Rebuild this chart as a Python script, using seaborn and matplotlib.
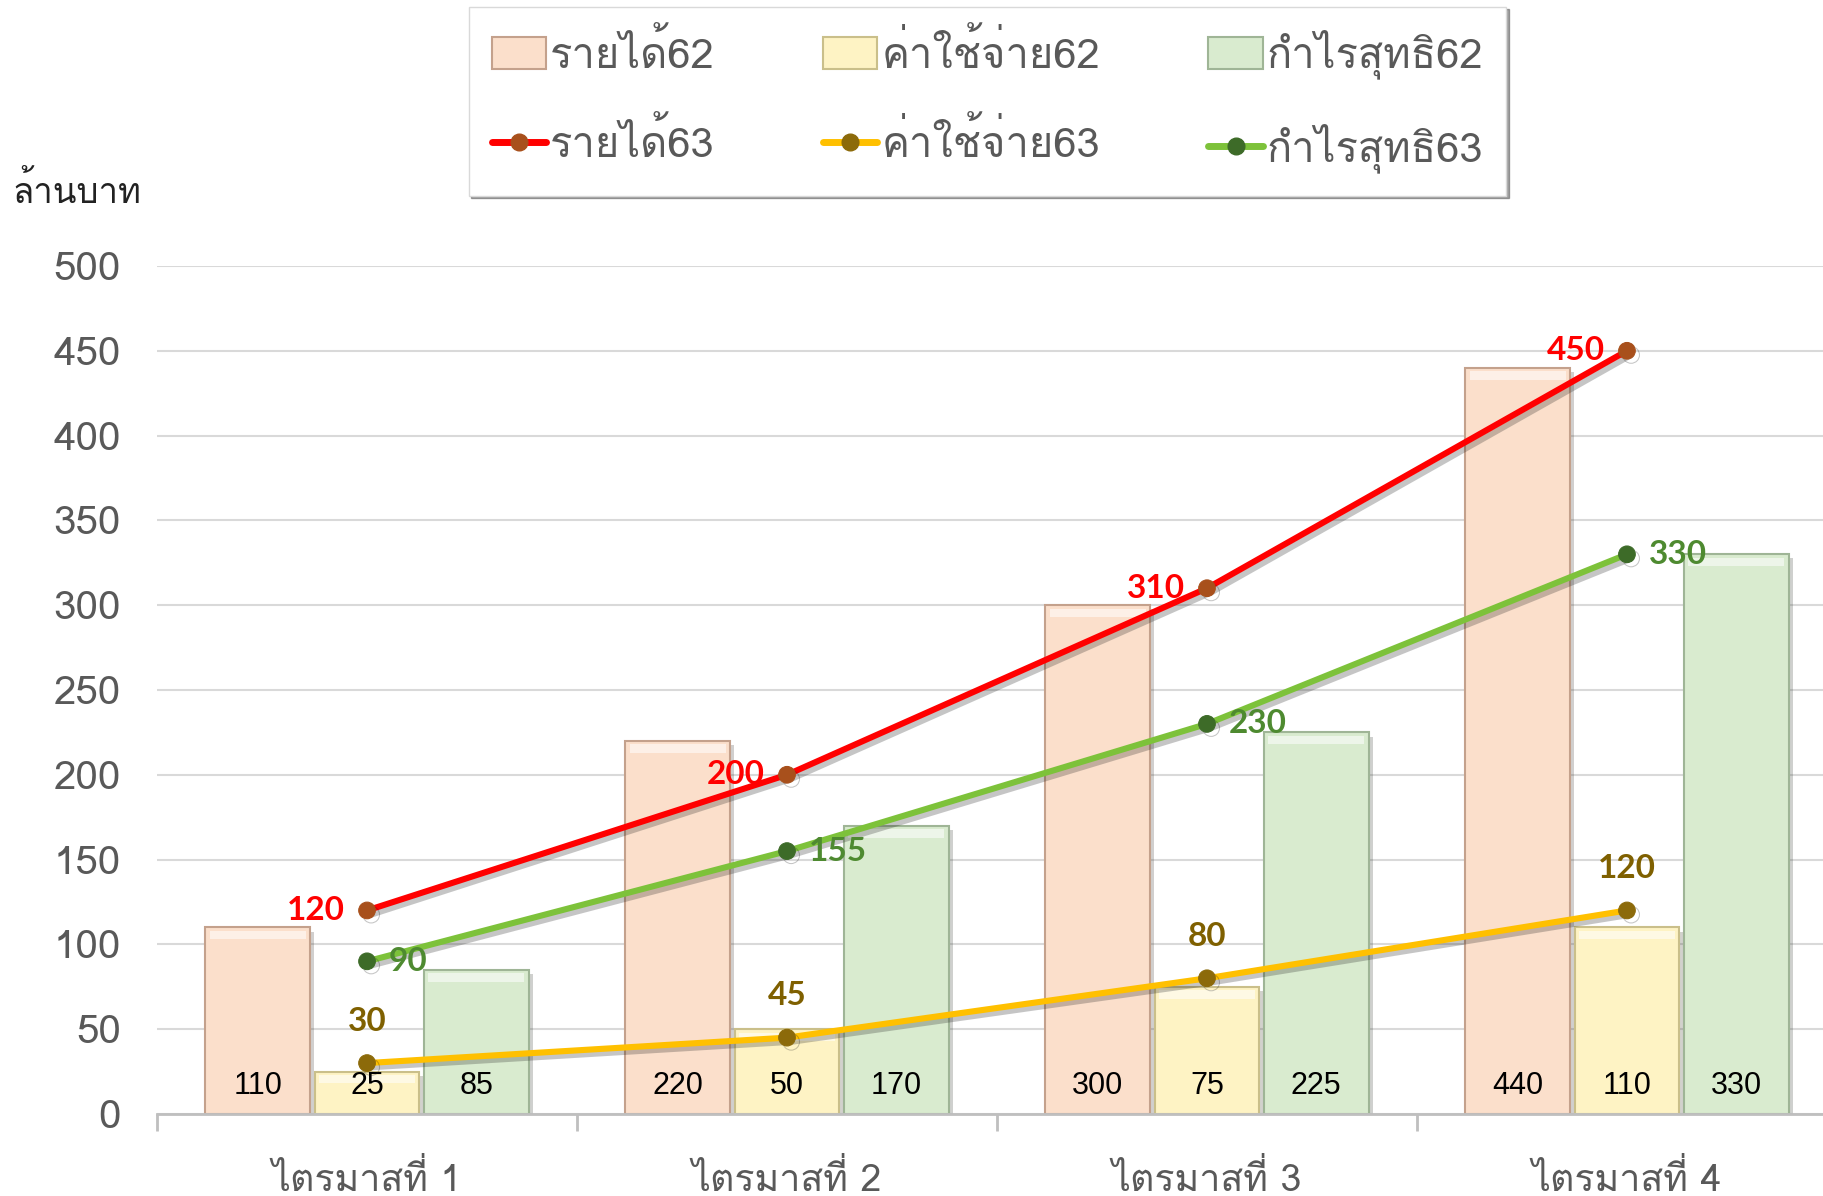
import matplotlib
matplotlib.use("Agg")
import matplotlib.pyplot as plt
import matplotlib.patheffects as pe
from matplotlib import font_manager
from matplotlib.ft2font import FT2Font
from matplotlib.patches import Patch, Rectangle
from matplotlib.lines import Line2D
import numpy as np
import pandas as pd
import seaborn as sns

quarters = ["ไตรมาสที่ 1", "ไตรมาสที่ 2", "ไตรมาสที่ 3", "ไตรมาสที่ 4"]
revenue62 = [110, 220, 300, 440]
expense62 = [25, 50, 75, 110]
profit62 = [85, 170, 225, 330]
revenue63 = [120, 200, 310, 450]
expense63 = [30, 45, 80, 120]
profit63 = [90, 155, 230, 330]
bar_names = ["รายได้62", "ค่าใช้จ่าย62", "กำไรสุทธิ62"]
line_names = ["รายได้63", "ค่าใช้จ่าย63", "กำไรสุทธิ63"]

# pick an installed font that has Thai glyphs
thai_font = None
for fe in font_manager.fontManager.ttflist:
    try:
        if 0x0E01 in FT2Font(fe.fname).get_charmap():
            if fe.name == "Loma" or thai_font is None:
                thai_font = fe.name
    except Exception:
        pass

sns.set_theme(style="whitegrid")
plt.rcParams["font.family"] = ([thai_font] if thai_font else []) + ["Liberation Sans", "DejaVu Sans"]

bar_colors = ["#FBDFCB", "#FEF3C4", "#D9EBCF"]
bar_edges = ["#C4A18C", "#CABF8A", "#9FB596"]
line_colors = ["#FF0000", "#FFC000", "#7DC23A"]
marker_colors = ["#A8501C", "#8C6A0A", "#3D6B28"]
label_colors = ["#FF0000", "#7F6000", "#4E8A30"]

df = pd.DataFrame({
    "quarter": quarters * 3,
    "value": revenue62 + expense62 + profit62,
    "series": [bar_names[0]] * 4 + [bar_names[1]] * 4 + [bar_names[2]] * 4,
})

fig = plt.figure(figsize=(18.24, 11.96), dpi=100)
ax = fig.add_axes([0.0861, 0.0686, 0.921, 0.709])

sns.barplot(data=df, x="quarter", y="value", hue="series", palette=bar_colors,
            width=0.78, gap=0.04, ax=ax, legend=False, saturation=1)
shadow = [pe.SimplePatchShadow(offset=(3, -3), alpha=0.25), pe.Normal()]
for i, patch in enumerate(list(ax.patches)):
    patch.set_edgecolor(bar_edges[i // 4])
    patch.set_linewidth(1.5)
    patch.set_path_effects(shadow)
    x0, w, h = patch.get_x(), patch.get_width(), patch.get_height()
    # bevel look: light band on top
    ax.add_patch(Rectangle((x0 + w * 0.04, h - 7), w * 0.92, 5, facecolor="white",
                           edgecolor="none", alpha=0.55, zorder=patch.get_zorder() + 0.1))
    ax.annotate(str(int(h)), (x0 + w / 2, 0), xytext=(0, 28),
                textcoords="offset pixels", ha="center", va="center",
                fontsize=22, color="black", family=["Liberation Sans"])

xs = np.arange(len(quarters))
line_shadow = [pe.SimpleLineShadow(offset=(3, -3), alpha=0.25), pe.Normal()]
for vals, lc, mc in zip([revenue63, expense63, profit63], line_colors, marker_colors):
    sns.lineplot(x=xs, y=vals, color=lc, linewidth=4.4, marker="o", markersize=12,
                 markerfacecolor=mc, markeredgecolor=mc, ax=ax,
                 path_effects=line_shadow, zorder=5)

for x, v in zip(xs, revenue63):
    ax.annotate(str(v), (x, v), xytext=(-22, 0), textcoords="offset pixels",
                ha="right", va="center", fontsize=24, fontweight="bold",
                color=label_colors[0], family=["Lato"], zorder=6)
for x, v in zip(xs, expense63):
    ax.annotate(str(v), (x, v), xytext=(0, 42), textcoords="offset pixels",
                ha="center", va="center", fontsize=24, fontweight="bold",
                color=label_colors[1], family=["Lato"], zorder=6)
for x, v in zip(xs, profit63):
    ax.annotate(str(v), (x, v), xytext=(22, 0), textcoords="offset pixels",
                ha="left", va="center", fontsize=24, fontweight="bold",
                color=label_colors[2], family=["Lato"], zorder=6)

ax.set_ylim(0, 500)
ax.set_xlim(-0.5, 3.5)
ax.set_yticks(np.arange(0, 501, 50))
ax.set_xlabel("")
ax.set_ylabel("")
ax.grid(axis="y", color="#D9D9D9", linewidth=1.5)
ax.grid(axis="x", visible=False)
for s in ["top", "right", "left"]:
    ax.spines[s].set_visible(False)
ax.spines["bottom"].set_color("#BFBFBF")
ax.spines["bottom"].set_linewidth(2)
ax.tick_params(axis="y", labelsize=29, labelcolor="#595959", length=0, pad=26)
ax.tick_params(axis="x", labelsize=27, labelcolor="#595959", length=0, pad=34)
ax.set_xticks(xs, quarters)
ax.set_xticks(np.arange(-0.5, 4, 1), minor=True)
ax.tick_params(axis="x", which="minor", length=12, width=2, color="#BFBFBF", bottom=True)

fig.text(0.007, 0.84, "ล้านบาท", fontsize=25, color="#222222", ha="left", va="center")

handles = []
labels = []
for i in range(3):
    handles.append(Patch(facecolor=bar_colors[i], edgecolor=bar_edges[i], linewidth=1.5))
    labels.append(bar_names[i])
    handles.append(Line2D([], [], color=line_colors[i], linewidth=5, marker="o",
                          markersize=12, markerfacecolor=marker_colors[i],
                          markeredgecolor=marker_colors[i]))
    labels.append(line_names[i])
leg = fig.legend(handles, labels, ncol=3, loc="center", bbox_to_anchor=(0.5414, 0.9155),
                 fontsize=30, frameon=True, fancybox=False, shadow=True,
                 edgecolor="#D9D9D9", handlelength=1.3, handleheight=0.8,
                 handletextpad=0.1, columnspacing=2.6, labelspacing=1.05,
                 borderpad=0.55)
for t in leg.get_texts():
    t.set_color("#595959")

fig.savefig("out.png", dpi=100)
